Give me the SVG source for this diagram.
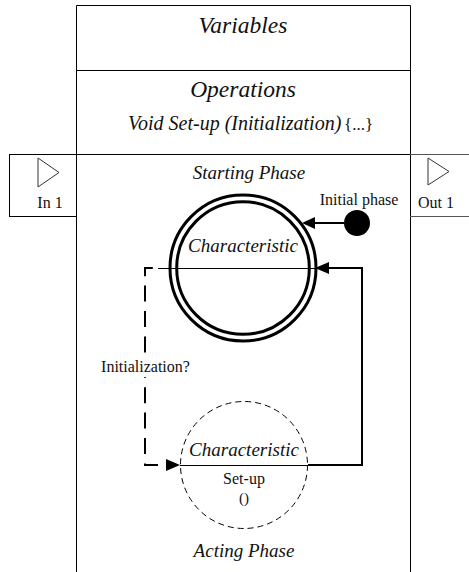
<svg xmlns="http://www.w3.org/2000/svg" width="469" height="572" viewBox="0 0 469 572">
<style>
  .ln { fill: none; stroke: #000; stroke-width: 1; }
  .gray { fill: none; stroke: #555; stroke-width: 1; }
  .it { font-family: "Liberation Serif", "Times New Roman", serif; font-style: italic; fill: #111; text-anchor: middle; }
  .rm { font-family: "Liberation Serif", "Times New Roman", serif; fill: #111; text-anchor: middle; }
  .st { text-anchor: start; }
  .thick { fill: none; stroke: #000; stroke-width: 2; }
  .dash { fill: none; stroke: #000; stroke-width: 2; stroke-dasharray: 16 9.4; stroke-dashoffset: 20.2; }
  .arrow { fill: #000; stroke: none; }
</style>
<rect x="0" y="0" width="469" height="572" fill="#fff"/>

<g id="class-box">
  <path class="ln" d="M76.5 572 V5.5 H410.5 V572"/>
  <path class="ln" d="M76.5 70.5 H410.5 M76.5 154.5 H410.5"/>
  <text class="it" x="243" y="33" font-size="23.5">Variables</text>
  <text class="it" x="243" y="97" font-size="23.5">Operations</text>
  <text class="it st" x="128" y="130" font-size="20">Void Set-up (Initialization)</text>
  <text class="rm st" x="344" y="130" font-size="17">{...}</text>
  <text class="it" x="249" y="179" font-size="19">Starting Phase</text>
  <text class="it" x="244" y="557" font-size="19">Acting Phase</text>
</g>

<g id="in-port">
  <rect class="ln" x="9.5" y="154.5" width="67" height="62"/>
  <polygon points="38,158 59,172.5 38,187" fill="#fff" stroke="#333" stroke-width="1"/>
  <text class="rm" x="50" y="208" font-size="16">In 1</text>
</g>

<g id="out-port">
  <path class="gray" d="M410 154.5 H469 M410 216.5 H469"/>
  <polygon points="428,158 449,171.5 428,185" fill="#fff" stroke="#333" stroke-width="1"/>
  <text class="rm" x="436" y="208" font-size="16">Out 1</text>
</g>

<g id="initial-state">
  <circle cx="357" cy="223" r="13" fill="#000"/>
  <text class="rm" x="359" y="205" font-size="16">Initial phase</text>
</g>

<g id="starting-state">
  <circle cx="243" cy="268" r="73" fill="none" stroke="#000" stroke-width="3"/>
  <circle cx="243" cy="268" r="66.3" fill="none" stroke="#000" stroke-width="3"/>
  <path class="ln" d="M158 268.5 H315"/>
  <text class="it" x="243" y="252" font-size="19">Characteristic</text>
</g>

<g id="acting-state">
  <circle cx="244" cy="465" r="63.5" fill="none" stroke="#000" stroke-width="1" stroke-dasharray="6 4"/>
  <path class="ln" d="M180 465.5 H308"/>
  <text class="it" x="244" y="456" font-size="19">Characteristic</text>
  <text class="rm" x="244" y="484" font-size="16">Set-up</text>
  <text class="rm" x="244" y="503" font-size="15">()</text>
</g>

<g id="connectors">
  <path class="thick" d="M344 223 H313"/>
  <polygon class="arrow" points="302,223 315,217 315,229"/>
  <path class="dash" d="M158 268 H145 V465 H158"/>
  <rect x="98" y="354" width="95" height="23" fill="#fff"/>
  <text class="rm" x="145.5" y="372" font-size="16">Initialization?</text>
  <polygon class="arrow" points="180,465 166,459 166,471"/>
  <path class="thick" d="M308 465 H362 V268 H327"/>
  <polygon class="arrow" points="315,268 329,262 329,274"/>
</g>
</svg>
